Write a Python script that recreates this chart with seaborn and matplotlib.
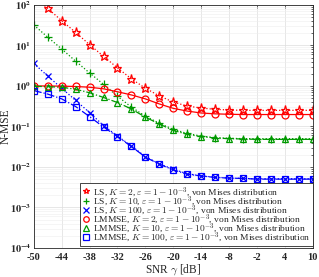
import numpy as np
import pandas as pd
import seaborn as sns
import matplotlib
matplotlib.use("Agg")
import matplotlib.pyplot as plt
from matplotlib.lines import Line2D
from matplotlib.ticker import FixedLocator, LogLocator, NullFormatter

# SNR grid (dB), one point every 3 dB
snr_db = list(range(-50, 11, 3))

ls_k2 = [165, 82, 41, 21, 10.5, 5.4, 2.8, 1.5, 0.88, 0.57, 0.40, 0.32, 0.285,
         0.265, 0.255, 0.25, 0.25, 0.25, 0.25, 0.25, 0.25]
ls_k10 = [32, 16, 8.2, 4.1, 2.1, 1.1, 0.56, 0.30, 0.18, 0.12, 0.085, 0.067,
          0.058, 0.053, 0.051, 0.05, 0.05, 0.05, 0.05, 0.05, 0.05]
ls_k100 = [3.6, 1.75, 0.88, 0.44, 0.22, 0.105, 0.058, 0.033, 0.018, 0.012,
           0.0088, 0.0068, 0.006, 0.0056, 0.0053, 0.0052, 0.0051, 0.0051,
           0.0051, 0.0051, 0.0051]
lmmse_k2 = [1.0, 1.0, 0.99, 0.97, 0.93, 0.85, 0.72, 0.60, 0.48, 0.36, 0.28,
            0.24, 0.215, 0.205, 0.2, 0.197, 0.197, 0.197, 0.197, 0.197, 0.197]
lmmse_k10 = [0.98, 0.96, 0.93, 0.83, 0.68, 0.52, 0.39, 0.27, 0.17, 0.115,
             0.08, 0.064, 0.056, 0.052, 0.05, 0.049, 0.048, 0.048, 0.048,
             0.048, 0.048]
lmmse_k100 = [0.77, 0.63, 0.48, 0.31, 0.175, 0.097, 0.056, 0.032, 0.0175,
              0.0117, 0.0085, 0.0066, 0.006, 0.0055, 0.0053, 0.0052, 0.005,
              0.005, 0.005, 0.005, 0.005]

legend_labels = [
    r"LS, $K=2$, $\varepsilon=1-10^{-3}$, von Mises distribution",
    r"LS, $K=10$, $\varepsilon=1-10^{-3}$, von Mises distribution",
    r"LS, $K=100$, $\varepsilon=1-10^{-3}$, von Mises distribution",
    r"LMMSE, $K=2$, $\varepsilon=1-10^{-3}$, von Mises distribution",
    r"LMMSE, $K=10$, $\varepsilon=1-10^{-3}$, von Mises distribution",
    r"LMMSE, $K=100$, $\varepsilon=1-10^{-3}$, von Mises distribution",
]
x_ticks = list(range(-50, 11, 6))
y_exponents = [-4, -3, -2, -1, 0, 1, 2]

sns.set_style("whitegrid")
plt.rcParams["font.family"] = ["Liberation Serif", "DejaVu Serif"]
plt.rcParams["mathtext.fontset"] = "cm"

red = "#ff0000"
green = "#009900"
blue = "#0000ff"
styles = [
    (ls_k2, red, "*", ":", 6.5),
    (ls_k10, green, "+", ":", 5.5),
    (ls_k100, blue, "x", ":", 4.5),
    (lmmse_k2, red, "o", "-", 5),
    (lmmse_k10, green, "^", "-.", 5),
    (lmmse_k100, blue, "s", "-.", 4.5),
]

fig = plt.figure(figsize=(3.19, 2.77), dpi=100)
ax = fig.add_axes([0.106, 0.105, 0.874, 0.877])

for vals, col, mk, ls, ms in styles:
    df = pd.DataFrame({"snr": snr_db, "nmse": vals})
    sns.lineplot(data=df, x="snr", y="nmse", ax=ax, color=col, marker=mk,
                 linestyle=ls, linewidth=0.9, markersize=ms,
                 markerfacecolor="none", markeredgecolor=col,
                 markeredgewidth=0.9, legend=False)

ax.set_yscale("log")
ax.set_xlim(-50, 10)
ax.set_ylim(1e-4, 1e2)
ax.xaxis.set_major_locator(FixedLocator(x_ticks))
ax.set_xticklabels([str(t) for t in x_ticks], fontweight="bold", fontsize=7.5)
ax.yaxis.set_major_locator(FixedLocator([10.0 ** e for e in y_exponents]))
ax.yaxis.set_minor_locator(LogLocator(base=10, subs=np.arange(2, 10)))
ax.yaxis.set_minor_formatter(NullFormatter())
ax.set_yticklabels([r"$\mathbf{10^{%d}}$" % e for e in y_exponents],
                   fontsize=7.5, math_fontfamily="stix")

ax.grid(True, which="major", color="#dddddd", linewidth=0.5)
ax.grid(True, which="minor", axis="y", color="#eeeeee", linewidth=0.4)
ax.tick_params(which="both", direction="in", top=True, right=True,
               length=2.5, width=0.5, colors="#262626")
ax.tick_params(axis="x", pad=3.5)
ax.tick_params(axis="y", pad=2)
ax.tick_params(which="minor", length=1.5)
for sp in ax.spines.values():
    sp.set_color("#262626")
    sp.set_linewidth(0.6)

ax.set_xlabel(r"SNR $\gamma$ [dB]", fontsize=8.3, labelpad=0)
ax.set_ylabel("N-MSE", fontsize=8.3)
ax.yaxis.set_label_coords(-0.078, 0.5)

handles = [Line2D([], [], color=col, marker=mk, linestyle="none",
                  markersize=4, markerfacecolor="none", markeredgewidth=0.9)
           for _, col, mk, _, ms in styles]
leg = ax.legend(handles, legend_labels, loc="lower right",
                bbox_to_anchor=(1.0, 0.008), fontsize=6.8,
                frameon=True, fancybox=False, edgecolor="#262626",
                handlelength=0.8, handletextpad=0.4, borderpad=0.2,
                labelspacing=-0.5, borderaxespad=0.0, framealpha=1)
leg.get_frame().set_linewidth(0.6)

fig.savefig("out.png", dpi=100)
